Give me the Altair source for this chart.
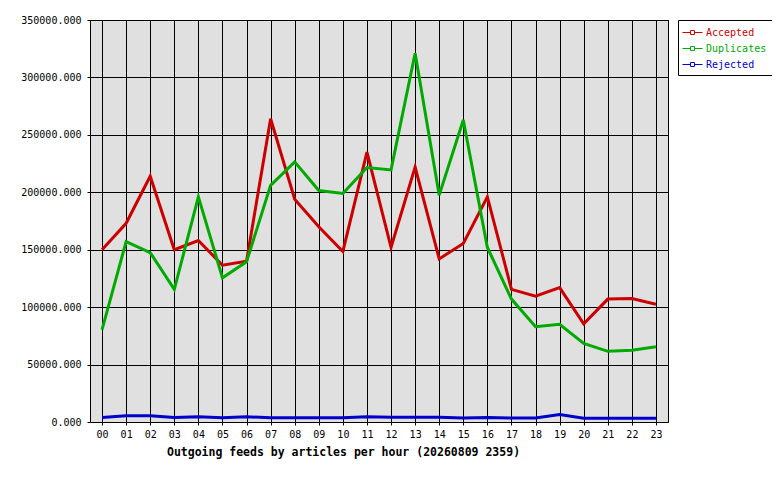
import altair as alt
import pandas as pd

hours = [f"{h:02d}" for h in range(24)]
accepted = [150000, 173000, 214000, 150000, 158000, 136500, 140000, 264000,
            194000, 170000, 148500, 235000, 152000, 222000, 142000, 155500,
            196000, 115500, 109500, 117000, 85500, 107000, 107500, 102500]
duplicates = [80500, 157000, 147500, 115500, 196000, 125500, 139500, 206000,
              226500, 201500, 199000, 221500, 219500, 321000, 197500, 263000,
              152000, 107000, 83000, 85000, 68500, 61500, 62500, 65500]
rejected = [4000, 5500, 5500, 4000, 4500, 3800, 4500, 3800,
            3800, 3800, 3800, 4500, 4200, 4200, 4200, 3500,
            4000, 3500, 3500, 6500, 3300, 3300, 3300, 3300]

series_names = ["Accepted", "Duplicates", "Rejected"]
series_colors = ["#cc0000", "#00aa00", "#0000cc"]
y_ticks = [0, 50000, 100000, 150000, 200000, 250000, 300000, 350000]

rows = []
for name, vals in zip(series_names, [accepted, duplicates, rejected]):
    for h, v in zip(hours, vals):
        rows.append({"hour": h, "series": name, "value": v})
df = pd.DataFrame(rows)

mono = "DejaVu Sans Mono"
color_expr = ("datum.value == 'Accepted' ? '#cc0000' : "
              "datum.value == 'Duplicates' ? '#00aa00' : '#0000cc'")

chart = alt.Chart(df).mark_line(strokeWidth=3, clip=True).encode(
    x=alt.X("hour:O", sort=hours,
            scale=alt.Scale(type="point", padding=0.5),
            axis=alt.Axis(title="Outgoing feeds by articles per hour (20260809 2359)",
                          labelAngle=0, grid=True, domain=False,
                          tickSize=3, labelPadding=4,
                          titleX=253, titleY=33, titleAlign="center",
                          titleBaseline="alphabetic", titleAnchor="start",
                          titleFont=mono, titleFontSize=11.5, titleFontWeight="bold")),
    y=alt.Y("value:Q", scale=alt.Scale(domain=[0, 350000], nice=False, zero=True),
            axis=alt.Axis(title=None, values=y_ticks, format=".3f", grid=True,
                          domain=False, tickSize=3, labelPadding=6)),
    color=alt.Color("series:N", sort=series_names,
                    scale=alt.Scale(domain=series_names, range=series_colors),
                    legend=alt.Legend(title=None, orient="right", offset=10,
                                      padding=5, strokeColor="black", fillColor="white",
                                      cornerRadius=0,
                                      symbolType="M-1.43,0H-0.28M0.28,0H1.43M-0.28,-0.28H0.28V0.28H-0.28Z",
                                      symbolSize=196, symbolStrokeWidth=1,
                                      symbolOffset=2,
                                      symbolFillColor="transparent",
                                      symbolStrokeColor=alt.ExprRef(color_expr),
                                      labelFont=mono, labelFontSize=10, labelOffset=6,
                                      labelColor=alt.ExprRef(color_expr),
                                      rowPadding=3)),
).properties(
    width=578, height=402,
    autosize=alt.AutoSizeParams(type="none"),
    padding={"left": 82, "top": 12, "right": 104, "bottom": 50},
    background="white",
).configure_view(
    fill="#e0e0e0", stroke="black", strokeWidth=1
).configure_axis(
    gridColor="black", gridOpacity=1, gridWidth=1,
    tickColor="black", tickWidth=1,
    labelFont=mono, labelFontSize=10, labelColor="black",
    titleColor="black",
)

chart.save("out.html", embed_options={"renderer": "svg", "actions": False})
